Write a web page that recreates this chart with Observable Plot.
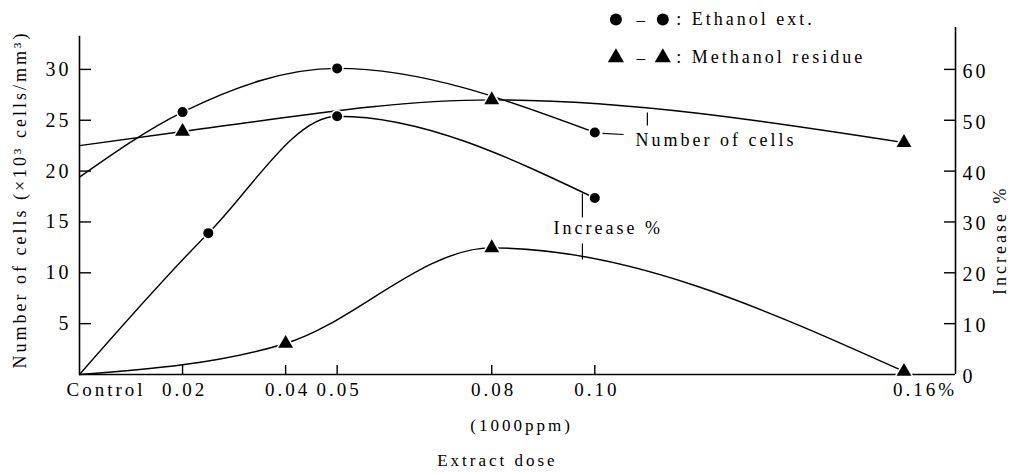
<!DOCTYPE html>
<html><head><meta charset="utf-8">
<script src="https://cdn.jsdelivr.net/npm/d3@7"></script>
<script src="https://cdn.jsdelivr.net/npm/@observablehq/plot@0.6"></script>
<style>
body{margin:0;background:#fff}
svg text{letter-spacing:3px; font-family:'Liberation Serif','DejaVu Serif',serif !important;}
</style>
</head><body><div id="chart"></div>
<script>
// ---- data (dose in %, cells in 10^3 cells/mm^3, increase in %) ----
const ethCellDose = [0, 0.02, 0.05, 0.10];
const ethCells    = [19.4, 25.8, 30.1, 23.8];
const metCellDose = [0, 0.02, 0.08, 0.16];
const metCells    = [22.5, 23.9, 27.0, 22.8];
const ethIncDose  = [0, 0.025, 0.05, 0.10];
const ethIncrease = [0, 27.8, 50.8, 34.7];
const metIncDose  = [0, 0.04, 0.08, 0.16];
const metIncrease = [0, 6.1, 24.9, 0.6];

const leftTicks  = [5, 10, 15, 20, 25, 30];
const rightTicks = [0, 10, 20, 30, 40, 50, 60];
const xTickMarks = [0.02, 0.04, 0.05, 0.08, 0.10, 0.16];
const xMidDoses  = [0.02, 0.04, 0.05, 0.08, 0.10];
const xMidLabels = ["0.02", "0.04", "0.05", "0.08", "0.10"];
const xFirstLabel = ["Control"];
const xLastLabel  = ["0.16%"];

// annotation leader lines [dose1, value1, dose2, value2] (cells scale)
const leaders = [
  [0.1015, 23.7, 0.1056, 23.6],
  [0.1102, 25.76, 0.1102, 24.48],
  [0.0976, 17.8, 0.0976, 15.44],
  [0.0976, 12.88, 0.0976, 11.31]
];
const annotLabels = ["Number of cells", "Increase %"];
const annotDose   = [0.1079, 0.0920];
const annotValue  = [23.0, 14.36];

const legendLabels = [": Ethanol ext.", ": Methanol residue"];
const legendSymbols = ["circle", "triangle"];
const legendY = [34.9, 31.15];

const xDomain = [0, 0.17];
const yDomain = [0, 34.12];

// ---- tables ----
const rows = (xs, ys, f = v => v) => xs.map((x, i) => ({x, y: f(ys[i])}));
const ethCellRows = rows(ethCellDose, ethCells);
const metCellRows = rows(metCellDose, metCells);
const ethIncRows  = rows(ethIncDose, ethIncrease, v => v / 2);
const metIncRows  = rows(metIncDose, metIncrease, v => v / 2);
const leaderRows = leaders.map(([x1, y1, x2, y2]) => ({x1, y1, x2, y2}));
const annotRows = annotLabels.map((t, i) => ({t, x: annotDose[i], y: annotValue[i]}));
const legendDots = [];
legendLabels.forEach((l, i) => {
  legendDots.push({x: 0.1041, y: legendY[i], s: legendSymbols[i]});
  legendDots.push({x: 0.1132, y: legendY[i], s: legendSymbols[i]});
});
const legendText = legendLabels.map((l, i) => ({t: l, x: 0.1158, y: legendY[i]}));
const legendDash = legendLabels.map((l, i) => ({t: "–", x: 0.1092, y: legendY[i]}));

const dotOpts = {fill: "black", stroke: "white", strokeWidth: 3, paintOrder: "stroke"};
const lineOpts = {x: "x", y: "y", curve: "monotone-x", stroke: "black", strokeWidth: 1.4};

const chart = Plot.plot({
  width: 1018,
  height: 475,
  marginLeft: 79,
  marginRight: 63,
  marginTop: 27,
  marginBottom: 101,
  style: {fontFamily: "'Liberation Serif', serif", fontSize: "17px", color: "black", background: "white"},
  x: {domain: xDomain, axis: null},
  y: {domain: yDomain, axis: null},
  symbol: {type: "identity"},
  marks: [
    // axes
    Plot.ruleX([0], {y1: 0, y2: 33.25, strokeWidth: 1.6}),
    Plot.ruleX([xDomain[1]], {y1: 0, y2: yDomain[1], strokeWidth: 1.6}),
    Plot.ruleY([0], {strokeWidth: 1.6}),
    Plot.tickY(leftTicks, {y: d => d, insetRight: 864, strokeWidth: 1.4}),
    Plot.tickY(rightTicks.filter(d => d > 0), {y: d => d / 2, insetLeft: 865, strokeWidth: 1.4}),
    Plot.tickX(xTickMarks, {x: d => d, insetTop: 338, strokeWidth: 1.4}),
    Plot.text(leftTicks, {y: d => d, text: d => String(d), frameAnchor: "left", dx: -8, textAnchor: "end", fontSize: 20}),
    Plot.text(rightTicks, {y: d => d / 2, text: d => String(d), frameAnchor: "right", dx: 7, dy: 2, textAnchor: "start", fontSize: 20}),
    Plot.text(xMidDoses, {x: d => d, text: (d, i) => xMidLabels[i], frameAnchor: "bottom", dy: 21, dx: 2, textAnchor: "middle", fontSize: 19}),
    Plot.text(xFirstLabel, {x: () => 0, text: d => d, frameAnchor: "bottom", dy: 21, dx: -13, textAnchor: "start", fontSize: 19}),
    Plot.text(xLastLabel, {x: () => 0.16, text: d => d, frameAnchor: "bottom", dy: 21, dx: -11, textAnchor: "start", fontSize: 19}),
    // axis titles
    Plot.text(["Number of cells (×10³ cells/mm³)"], {y: () => 17.2, text: d => d, frameAnchor: "left", dx: -59, rotate: -90, textAnchor: "middle", fontSize: 18}),
    Plot.text(["Increase %"], {y: () => 13.2, text: d => d, frameAnchor: "right", dx: 45, rotate: -90, textAnchor: "middle", fontSize: 18}),
    Plot.text(["(1000ppm)"], {x: () => 0.0858, text: d => d, frameAnchor: "bottom", dy: 56, textAnchor: "middle", fontSize: 17}),
    Plot.text(["Extract dose"], {x: () => 0.0811, text: d => d, frameAnchor: "bottom", dy: 91, textAnchor: "middle", fontSize: 17}),
    // lines
    Plot.line(ethCellRows, lineOpts),
    Plot.line(metCellRows, lineOpts),
    Plot.line(ethIncRows, lineOpts),
    Plot.line(metIncRows, lineOpts),
    // markers
    Plot.dot(ethCellRows.slice(1), {x: "x", y: "y", r: 5, symbol: "circle", ...dotOpts}),
    Plot.dot(ethIncRows.slice(1), {x: "x", y: "y", r: 5, symbol: "circle", ...dotOpts}),
    Plot.dot(metCellRows.slice(1), {x: "x", y: "y", r: 5.5, symbol: "triangle", ...dotOpts}),
    Plot.dot(metIncRows.slice(1), {x: "x", y: "y", r: 5.5, symbol: "triangle", ...dotOpts}),
    // annotations
    Plot.link(leaderRows, {x1: "x1", y1: "y1", x2: "x2", y2: "y2", stroke: "black", strokeWidth: 1.2}),
    Plot.text(annotRows, {x: "x", y: "y", text: "t", textAnchor: "start", fontSize: 18}),
    // legend
    Plot.dot(legendDots, {x: "x", y: "y", symbol: "s", r: 6, fill: "black"}),
    Plot.text(legendDash, {x: "x", y: "y", text: "t", textAnchor: "middle", fontSize: 17}),
    Plot.text(legendText, {x: "x", y: "y", text: "t", textAnchor: "start", fontSize: 18})
  ]
});
document.getElementById("chart").appendChild(chart);
</script></body></html>
